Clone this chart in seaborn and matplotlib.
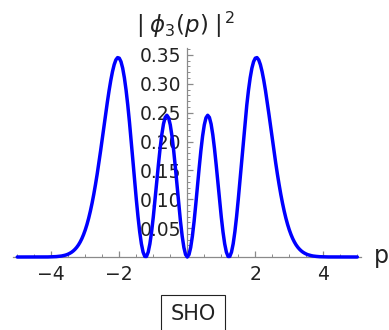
"""
plot.py
-------
Probability density |phi_3(p)|^2 of the harmonic oscillator (SHO),
drawn in a Mathematica-like style with seaborn.
"""

import numpy as np
import pandas as pd
import matplotlib
matplotlib.use('Agg')
import matplotlib.pyplot as plt
import seaborn as sns
from matplotlib.ticker import MultipleLocator, FixedLocator

# values for p = 0.00, 0.05, ..., 5.00 (curve is symmetric)
density_half = [
    0.0000, 0.0042, 0.0165, 0.0361, 0.0616, 0.0913, 0.1230, 0.1547, 0.1842, 0.2094,
    0.2288, 0.2411, 0.2455, 0.2418, 0.2304, 0.2119, 0.1877, 0.1595, 0.1291, 0.0983,
    0.0692, 0.0435, 0.0228, 0.0084, 0.0009, 0.0010, 0.0085, 0.0230, 0.0439, 0.0701,
    0.1003, 0.1332, 0.1673, 0.2011, 0.2334, 0.2631, 0.2890, 0.3105, 0.3271, 0.3384,
    0.3444, 0.3454, 0.3415, 0.3332, 0.3211, 0.3059, 0.2882, 0.2686, 0.2478, 0.2263,
    0.2048, 0.1836, 0.1631, 0.1436, 0.1255, 0.1086, 0.0933, 0.0795, 0.0672, 0.0564,
    0.0470, 0.0389, 0.0319, 0.0260, 0.0210, 0.0169, 0.0135, 0.0107, 0.0084, 0.0066,
    0.0051, 0.0039, 0.0030, 0.0023, 0.0017, 0.0013, 0.0010, 0.0007, 0.0005, 0.0004,
    0.0003, 0.0002, 0.0001, 0.0001, 0.0001, 0.0000, 0.0000, 0.0000, 0.0000, 0.0000,
    0.0000, 0.0000, 0.0000, 0.0000, 0.0000, 0.0000, 0.0000, 0.0000, 0.0000, 0.0000,
    0.0000,
]
density = density_half[::-1] + density_half[1:]
p_values = np.linspace(-5, 5, len(density))

x_ticks = [-4, -2, 2, 4]
y_ticks = [0.05, 0.10, 0.15, 0.20, 0.25, 0.30, 0.35]

df = pd.DataFrame({'p': p_values, 'density': density})

sns.set_style('white')
plt.rcParams['font.family'] = ['DejaVu Sans']
plt.rcParams['mathtext.fontset'] = 'dejavusans'

fig = plt.figure(figsize=(3.89, 3.30), dpi=100)
ax = fig.add_axes([0.0339, 0.2212, 0.8951, 0.6333])

axis_col = '#8a8a8a'
text_col = '#222222'

sns.lineplot(data=df, x='p', y='density', color='#0000ff',
             linewidth=2.5, ax=ax, clip_on=False, zorder=5)
for ln in ax.lines:
    ln.set_solid_joinstyle('round')
    ln.set_solid_capstyle('round')

ax.set_xlim(-5.12, 5.12)
ax.set_ylim(0, 0.362)

# Mathematica style axes crossing at the origin
ax.spines['left'].set_position(('data', 0))
ax.spines['bottom'].set_position(('data', 0))
ax.spines['top'].set_visible(False)
ax.spines['right'].set_visible(False)
for s in ('left', 'bottom'):
    ax.spines[s].set_color(axis_col)
    ax.spines[s].set_linewidth(0.9)

ax.xaxis.set_major_locator(FixedLocator(x_ticks))
ax.xaxis.set_minor_locator(MultipleLocator(0.5))
ax.yaxis.set_major_locator(FixedLocator(y_ticks))
ax.yaxis.set_minor_locator(MultipleLocator(0.01))
ax.set_xticklabels([f'{t:d}'.replace('-', '\u2212') for t in x_ticks])
ax.set_yticklabels([f'{t:.2f}' for t in y_ticks])

ax.tick_params(which='both', bottom=True, left=True, top=False, right=False)
ax.tick_params(which='major', direction='in', length=4, width=0.9,
               color=axis_col, labelcolor=text_col, labelsize=13.5)
ax.tick_params(which='minor', direction='in', length=2, width=0.7,
               color=axis_col)
ax.tick_params(axis='x', which='major', pad=6)
ax.tick_params(axis='y', which='major', pad=4)

ax.set_xlabel('')
ax.set_ylabel('')

# axis labels
fig.text(374 / 389, (330 - 263) / 330, 'p', fontsize=17, color=text_col,
         ha='left', va='baseline')
fig.text(186 / 389, (330 - 25) / 330, r'$|\;\phi_3(p)\;|^{\,2}$', fontsize=16.5,
         color=text_col, ha='center', va='center')

# plot legend / label box
fig.text(193 / 389, (330 - 314) / 330, 'SHO', fontsize=15, color=text_col,
         ha='center', va='center',
         bbox=dict(boxstyle='square,pad=0.45', fc='white', ec='#222222', lw=0.8))

fig.savefig('out.png', dpi=100)
